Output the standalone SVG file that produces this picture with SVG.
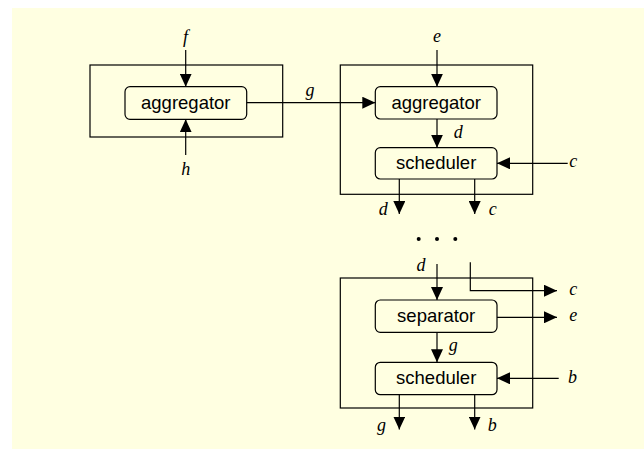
<svg xmlns="http://www.w3.org/2000/svg" width="644" height="449" viewBox="0 0 644 449">
  <defs>
    <marker id="arrow" markerUnits="userSpaceOnUse" markerWidth="13" markerHeight="12" refX="13" refY="6" orient="auto">
      <path d="M0,0 L13,6 L0,12 Z" fill="#000"/>
    </marker>
    <style>
      .frame { fill: none; stroke: #000; stroke-width: 1.2; }
      .unit { fill: #FFFFE1; stroke: #000; stroke-width: 1.2; }
      .name { font-family: "Liberation Sans", Arial, sans-serif; font-size: 18.5px; text-anchor: middle; fill: #000; }
      .sig { font-family: "Liberation Serif", "Times New Roman", serif; font-style: italic; font-size: 18px; fill: #000; }
      .wire { fill: none; stroke: #000; stroke-width: 1.2; marker-end: url(#arrow); }
    </style>
  </defs>

  <rect x="12" y="8" width="632" height="441" fill="#FFFFE1"/>

  <!-- first stage: single aggregator -->
  <g id="stage1">
    <rect class="frame" x="90" y="65" width="192.7" height="72"/>
  </g>
  <g id="aggregator1">
    <rect class="unit" x="125" y="86.7" width="121.7" height="32.6" rx="5"/>
    <text class="name" x="185.8" y="109">aggregator</text>
  </g>

  <!-- second stage: aggregator feeding a scheduler -->
  <g id="stage2">
    <rect class="frame" x="340.3" y="65" width="192.4" height="129.3"/>
  </g>
  <g id="aggregator2">
    <rect class="unit" x="375.3" y="86.7" width="121.7" height="32.3" rx="5"/>
    <text class="name" x="436.2" y="109">aggregator</text>
  </g>
  <g id="scheduler1">
    <rect class="unit" x="375.3" y="147.7" width="121.7" height="31.3" rx="5"/>
    <text class="name" x="436.2" y="169">scheduler</text>
  </g>

  <!-- last stage: separator feeding a scheduler -->
  <g id="stage3">
    <rect class="frame" x="340.3" y="278" width="192.4" height="130"/>
  </g>
  <g id="separator">
    <rect class="unit" x="375.3" y="300" width="121.7" height="32.3" rx="5"/>
    <text class="name" x="436.2" y="322">separator</text>
  </g>
  <g id="scheduler2">
    <rect class="unit" x="375.3" y="362.3" width="121.7" height="32.4" rx="5"/>
    <text class="name" x="436.2" y="384.3">scheduler</text>
  </g>

  <!-- elision between stages -->
  <g id="ellipsis" fill="#000">
    <circle cx="418.7" cy="239" r="2"/>
    <circle cx="437" cy="239" r="2"/>
    <circle cx="455.3" cy="239" r="2"/>
  </g>

  <g id="connectors">
    <line class="wire" x1="185.7" y1="50" x2="185.7" y2="86.7"/>
    <line class="wire" x1="185.7" y1="155" x2="185.7" y2="119.3"/>
    <line class="wire" x1="246.7" y1="102.7" x2="375.3" y2="102.7"/>
    <line class="wire" x1="437" y1="50" x2="437" y2="86.7"/>
    <line class="wire" x1="437" y1="119" x2="437" y2="147.7"/>
    <line class="wire" x1="567.7" y1="163.3" x2="497" y2="163.3"/>
    <line class="wire" x1="399.3" y1="179" x2="399.3" y2="214"/>
    <line class="wire" x1="474.7" y1="179" x2="474.7" y2="214"/>
    <line class="wire" x1="437" y1="264" x2="437" y2="300"/>
    <path class="wire" d="M470.3,262.3 V290.7 H557"/>
    <line class="wire" x1="497" y1="317.3" x2="557" y2="317.3"/>
    <line class="wire" x1="437" y1="332.3" x2="437" y2="362.3"/>
    <line class="wire" x1="558.7" y1="378.3" x2="497" y2="378.3"/>
    <line class="wire" x1="399.3" y1="394.7" x2="399.3" y2="429.5"/>
    <line class="wire" x1="474.7" y1="394.7" x2="474.7" y2="429.5"/>
  </g>

  <g id="labels">
    <text class="sig" x="185.5" y="43" text-anchor="middle">f</text>
    <text class="sig" x="185.7" y="175" text-anchor="middle">h</text>
    <text class="sig" x="310" y="95.5" text-anchor="middle">g</text>
    <text class="sig" x="437" y="42" text-anchor="middle">e</text>
    <text class="sig" x="453.7" y="138">d</text>
    <text class="sig" x="569.3" y="167">c</text>
    <text class="sig" x="378.7" y="215">d</text>
    <text class="sig" x="488.7" y="215">c</text>
    <text class="sig" x="416.5" y="270.5">d</text>
    <text class="sig" x="569.3" y="295">c</text>
    <text class="sig" x="569.3" y="321">e</text>
    <text class="sig" x="448.7" y="351">g</text>
    <text class="sig" x="568" y="382.5">b</text>
    <text class="sig" x="377" y="430.5">g</text>
    <text class="sig" x="487.7" y="430.5">b</text>
  </g>
</svg>
